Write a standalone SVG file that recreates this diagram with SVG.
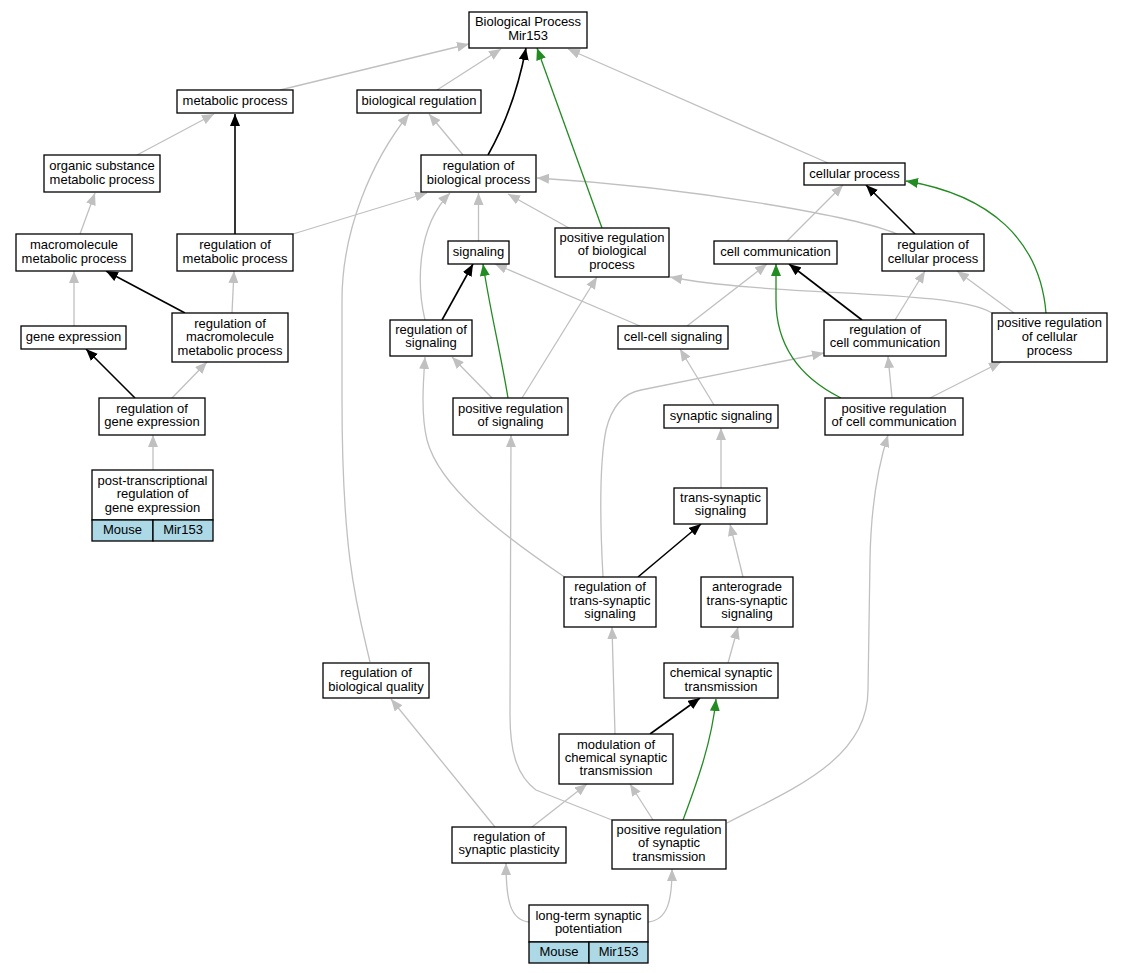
<svg xmlns="http://www.w3.org/2000/svg" width="1123" height="973" viewBox="0 0 1123 973">
<style>
rect{fill:#fff;stroke:#000;stroke-width:1.3}
rect.c{fill:#add8e6}
text{font-family:"Liberation Sans",Arial,Helvetica,sans-serif;font-size:13px;text-anchor:middle;fill:#000}
path.g{fill:none;stroke:#c0c0c0;stroke-width:1.3;marker-end:url(#ag)}
path.k{fill:none;stroke:#000;stroke-width:1.6;marker-end:url(#ak)}
path.v{fill:none;stroke:#228b22;stroke-width:1.3;marker-end:url(#av)}
</style>
<defs>
<marker id="ag" markerUnits="userSpaceOnUse" markerWidth="13" markerHeight="10" refX="12" refY="5" orient="auto"><path d="M0,0 L12,5 L0,10 z" fill="#c0c0c0"/></marker>
<marker id="ak" markerUnits="userSpaceOnUse" markerWidth="13" markerHeight="10" refX="12" refY="5" orient="auto"><path d="M0,0 L12,5 L0,10 z" fill="#000"/></marker>
<marker id="av" markerUnits="userSpaceOnUse" markerWidth="13" markerHeight="10" refX="12" refY="5" orient="auto"><path d="M0,0 L12,5 L0,10 z" fill="#228b22"/></marker>
</defs>
<rect x="0" y="0" width="1123" height="973" style="fill:#fff;stroke:none"/>
<g id="edges">
<path class="g" d="M280,90 L469,44"/>
<path class="g" d="M437,90 L501,49"/>
<path class="g" d="M828,163 L568,49"/>
<path class="g" d="M137,155 L214,114"/>
<path class="g" d="M80,234 L95,193"/>
<path class="g" d="M463,155 L429,114"/>
<path class="g" d="M370,662 C358,610 342,560 342,400 L342,300 C342,230 372,160 409,114"/>
<path class="g" d="M293,234 L427,193"/>
<path class="g" d="M425,320 C418,290 414,230 450,193"/>
<path class="g" d="M478.5,241 L478.5,193"/>
<path class="g" d="M569,228 L508,194"/>
<path class="g" d="M897,234 C860,218 700,188 537,178"/>
<path class="g" d="M74,326 L74,271"/>
<path class="g" d="M232,313 L234,271"/>
<path class="g" d="M172,398 L207,362"/>
<path class="g" d="M153,470 L153,435"/>
<path class="g" d="M492,398 L452,357"/>
<path class="g" d="M522,398 L597,277"/>
<path class="g" d="M640,326 L495,264"/>
<path class="g" d="M687,326 L767,264"/>
<path class="g" d="M787,241 L843,185"/>
<path class="g" d="M992,313 C950,288 780,298 670,277"/>
<path class="g" d="M1014,313 L957,271"/>
<path class="g" d="M895,320 L925,271"/>
<path class="g" d="M714,405 L680,349"/>
<path class="g" d="M721,488 L721,428"/>
<path class="g" d="M892,398 L888,356"/>
<path class="g" d="M930,398 L1001,362"/>
<path class="g" d="M603,577 C601,540 598,470 606,430 C612,405 625,393 641,390 L824,353"/>
<path class="g" d="M566,578 C510,540 440,490 427,440 C421,415 423,385 425,357"/>
<path class="g" d="M743,577 L730,524"/>
<path class="g" d="M728,663 L738,627"/>
<path class="g" d="M615,734 L612,627"/>
<path class="g" d="M495,827 L391,699"/>
<path class="g" d="M532,827 L587,784"/>
<path class="g" d="M653,820 L630,784"/>
<path class="g" d="M612,820 L536,790 C516,775 510,750 510,715 L511,435"/>
<path class="g" d="M727,823 C790,790 868,760 868,690 L870,560 C871,500 880,460 888,435"/>
<path class="g" d="M529,922 C510,920 506,900 506,863"/>
<path class="g" d="M648,922 C668,920 672,900 672,869"/>
<path class="k" d="M488,155 C505,125 518,90 526,48"/>
<path class="k" d="M235,234 L235,114"/>
<path class="k" d="M185,313 L106,271"/>
<path class="k" d="M135,398 L86,349"/>
<path class="k" d="M442,320 L473,264"/>
<path class="k" d="M915,234 L866,185"/>
<path class="k" d="M862,320 L789,264"/>
<path class="k" d="M638,577 L701,524"/>
<path class="k" d="M650,734 L700,698"/>
<path class="v" d="M602,228 L537,48"/>
<path class="v" d="M508,398 C500,350 490,310 483,264"/>
<path class="v" d="M1046,313 C1040,240 990,195 906,181"/>
<path class="v" d="M841,398 C795,375 776,340 776,300 L776,264"/>
<path class="v" d="M683,820 C698,780 712,740 716,699"/>
</g>
<g id="n1"><rect x="469" y="12" width="118" height="36"/><text x="528" y="26">Biological Process</text><text x="528" y="39.5">Mir153</text></g>
<g id="n2"><rect x="177" y="90" width="116" height="23"/><text x="235" y="105">metabolic process</text></g>
<g id="n3"><rect x="357" y="90" width="124" height="23"/><text x="419" y="105">biological regulation</text></g>
<g id="n4"><rect x="804" y="163" width="101" height="22"/><text x="854.5" y="177.5">cellular process</text></g>
<g id="n5"><rect x="44" y="155" width="116" height="37"/><text x="102" y="170">organic substance</text><text x="102" y="183.5">metabolic process</text></g>
<g id="n6"><rect x="421" y="155" width="115" height="37"/><text x="478.5" y="170">regulation of</text><text x="478.5" y="183.5">biological process</text></g>
<g id="n7"><rect x="16" y="234" width="116" height="37"/><text x="74" y="249.3">macromolecule</text><text x="74" y="262.7">metabolic process</text></g>
<g id="n8"><rect x="177" y="234" width="116" height="37"/><text x="235" y="249.3">regulation of</text><text x="235" y="262.7">metabolic process</text></g>
<g id="n9"><rect x="448" y="241" width="61" height="23"/><text x="478.5" y="255.5">signaling</text></g>
<g id="n10"><rect x="555" y="228" width="114" height="49"/><text x="612" y="242">positive regulation</text><text x="612" y="255.4">of biological</text><text x="612" y="269">process</text></g>
<g id="n11"><rect x="714" y="241" width="123" height="23"/><text x="775.5" y="255.5">cell communication</text></g>
<g id="n12"><rect x="882" y="234" width="102" height="37"/><text x="933" y="249.3">regulation of</text><text x="933" y="262.7">cellular process</text></g>
<g id="n13"><rect x="21" y="326" width="105" height="23"/><text x="73.5" y="341">gene expression</text></g>
<g id="n14"><rect x="172" y="313" width="116" height="49"/><text x="230" y="327.8">regulation of</text><text x="230" y="341.1">macromolecule</text><text x="230" y="354.5">metabolic process</text></g>
<g id="n15"><rect x="390" y="320" width="82" height="36"/><text x="431" y="333.6">regulation of</text><text x="431" y="347">signaling</text></g>
<g id="n16"><rect x="618" y="326" width="110" height="23"/><text x="673" y="341">cell-cell signaling</text></g>
<g id="n17"><rect x="824" y="320" width="122" height="36"/><text x="885" y="333.6">regulation of</text><text x="885" y="347">cell communication</text></g>
<g id="n18"><rect x="992" y="313" width="115" height="49"/><text x="1049.5" y="327.2">positive regulation</text><text x="1049.5" y="341">of cellular</text><text x="1049.5" y="354.5">process</text></g>
<g id="n19"><rect x="99" y="398" width="106" height="37"/><text x="152" y="413">regulation of</text><text x="152" y="426.4">gene expression</text></g>
<g id="n20"><rect x="453" y="398" width="115" height="37"/><text x="510.5" y="413">positive regulation</text><text x="510.5" y="426.4">of signaling</text></g>
<g id="n21"><rect x="664" y="405" width="114" height="23"/><text x="721" y="419.5">synaptic signaling</text></g>
<g id="n22"><rect x="825" y="398" width="138" height="37"/><text x="894" y="413">positive regulation</text><text x="894" y="426.4">of cell communication</text></g>
<g id="n23"><rect x="92" y="470" width="121" height="50"/><rect class="c" x="92" y="520" width="61" height="21"/><rect class="c" x="153" y="520" width="60" height="21"/><text x="152.5" y="485">post-transcriptional</text><text x="152.5" y="498.4">regulation of</text><text x="152.5" y="511.8">gene expression</text><text x="122.5" y="533.5">Mouse</text><text x="183" y="533.5">Mir153</text></g>
<g id="n24"><rect x="674" y="488" width="93" height="36"/><text x="720.5" y="501.8">trans-synaptic</text><text x="720.5" y="515.2">signaling</text></g>
<g id="n25"><rect x="564" y="577" width="92" height="50"/><text x="610" y="591">regulation of</text><text x="610" y="604.5">trans-synaptic</text><text x="610" y="618">signaling</text></g>
<g id="n26"><rect x="701" y="577" width="92" height="50"/><text x="747" y="591">anterograde</text><text x="747" y="604.5">trans-synaptic</text><text x="747" y="618">signaling</text></g>
<g id="n27"><rect x="323" y="663" width="106" height="35"/><text x="376" y="677">regulation of</text><text x="376" y="690.5">biological quality</text></g>
<g id="n28"><rect x="664" y="663" width="114" height="35"/><text x="721" y="677">chemical synaptic</text><text x="721" y="690.5">transmission</text></g>
<g id="n29"><rect x="559" y="734" width="114" height="50"/><text x="616" y="748.6">modulation of</text><text x="616" y="762">chemical synaptic</text><text x="616" y="775.4">transmission</text></g>
<g id="n30"><rect x="452" y="827" width="114" height="36"/><text x="509" y="840.8">regulation of</text><text x="509" y="854.2">synaptic plasticity</text></g>
<g id="n31"><rect x="612" y="820" width="114" height="49"/><text x="669" y="833.6">positive regulation</text><text x="669" y="847">of synaptic</text><text x="669" y="860.8">transmission</text></g>
<g id="n32"><rect x="529" y="905" width="119" height="37"/><rect class="c" x="529" y="942" width="60" height="21"/><rect class="c" x="589" y="942" width="59" height="21"/><text x="588.5" y="919.5">long-term synaptic</text><text x="588.5" y="933">potentiation</text><text x="559" y="955.5">Mouse</text><text x="618.5" y="955.5">Mir153</text></g>
</svg>
